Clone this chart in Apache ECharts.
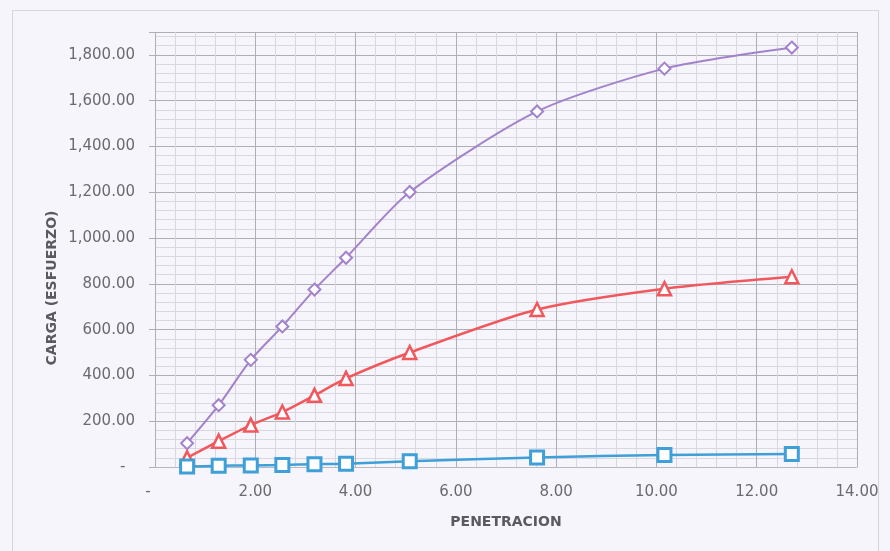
<!DOCTYPE html>
<html><head><meta charset="utf-8">
<script src="https://cdn.jsdelivr.net/npm/echarts@6/dist/echarts.min.js"></script>
<style>html,body{margin:0;padding:0;background:#f6f5fb;overflow:hidden;}#c{width:890px;height:551px;}
#frame{position:absolute;left:12px;top:10px;width:867px;height:560px;border:1px solid #d6d5dc;box-sizing:border-box;pointer-events:none;}</style>
</head><body><div id="c"></div><div id="frame"></div>
<script>
const penetracion = [0.64, 1.27, 1.91, 2.54, 3.18, 3.81, 5.08, 7.62, 10.16, 12.70];
const serieAlta = [104, 270, 468, 614, 775, 914, 1201, 1553, 1740, 1832];
const serieMedia = [40, 113, 183, 240, 313, 387, 500, 688, 779, 831];
const serieBaja = [2, 5, 7, 9, 12, 14, 25, 42, 52, 57];
const xTitle = 'PENETRACION';
const yTitle = 'CARGA (ESFUERZO)';

const fmt = v => v.toLocaleString('en-US', {minimumFractionDigits: 2, maximumFractionDigits: 2});
const pair = arr => penetracion.map((x, i) => [x, arr[i]]);
const font = '"DejaVu Sans", "Liberation Sans", sans-serif';
const labelColor = '#6a6a70';
const titleColor = '#5a5a60';

const chart = echarts.init(document.getElementById('c'));
chart.setOption({
  backgroundColor: '#f6f5fb',
  animation: false,
  grid: {left: 155, right: 33, top: 32, bottom: 84},
  graphic: [{
    type: 'text', x: 52, y: 288, rotation: Math.PI / 2, silent: true,
    style: {text: yTitle, fill: titleColor, font: 'bold 14px ' + font, align: 'center', verticalAlign: 'middle'}
  }],
  xAxis: {
    type: 'value', min: 0, max: 14, interval: 2,
    name: xTitle, nameLocation: 'middle', nameGap: 48,
    nameTextStyle: {color: titleColor, fontSize: 14, fontFamily: font, fontWeight: 'bold'},
    axisLine: {show: true, lineStyle: {color: '#b8b8bf'}},
    axisTick: {show: false},
    axisLabel: {formatter: v => v === 0 ? '-   ' : fmt(v), color: labelColor, fontSize: 15, fontFamily: font, margin: 18},
    splitLine: {show: true, lineStyle: {color: '#aeaeb6', width: 1}},
    minorTick: {show: false, splitNumber: 5},
    minorSplitLine: {show: true, lineStyle: {color: '#d9d8e0', width: 1}}
  },
  yAxis: {
    type: 'value', min: 0, max: 1900, interval: 200,
    axisLine: {show: false},
    axisTick: {show: true, length: 6, lineStyle: {color: '#aeaeb6'}},
    axisLabel: {formatter: v => v > 1800 ? '' : (v === 0 ? '-  ' : fmt(v)), color: labelColor, fontSize: 15, fontFamily: font, margin: 20},
    splitLine: {show: true, lineStyle: {color: '#aeaeb6', width: 1}},
    minorTick: {show: false, splitNumber: 5},
    minorSplitLine: {show: true, lineStyle: {color: '#d9d8e0', width: 1}}
  },
  series: [
    {type: 'line', data: pair(serieAlta), smooth: 0.25, symbol: 'diamond', symbolSize: 12,
     lineStyle: {color: '#a382cc', width: 2}, itemStyle: {color: '#ffffff', borderColor: '#a382cc', borderWidth: 2}},
    {type: 'line', data: pair(serieMedia), smooth: 0.25, symbol: 'triangle', symbolSize: 13,
     lineStyle: {color: '#f0585d', width: 2.5}, itemStyle: {color: '#ffffff', borderColor: '#f0585d', borderWidth: 2.5}},
    {type: 'line', data: pair(serieBaja), smooth: 0.25, symbol: 'rect', symbolSize: 13,
     lineStyle: {color: '#3f9fd8', width: 2.5}, itemStyle: {color: '#ffffff', borderColor: '#3f9fd8', borderWidth: 3}}
  ]
});
</script></body></html>
